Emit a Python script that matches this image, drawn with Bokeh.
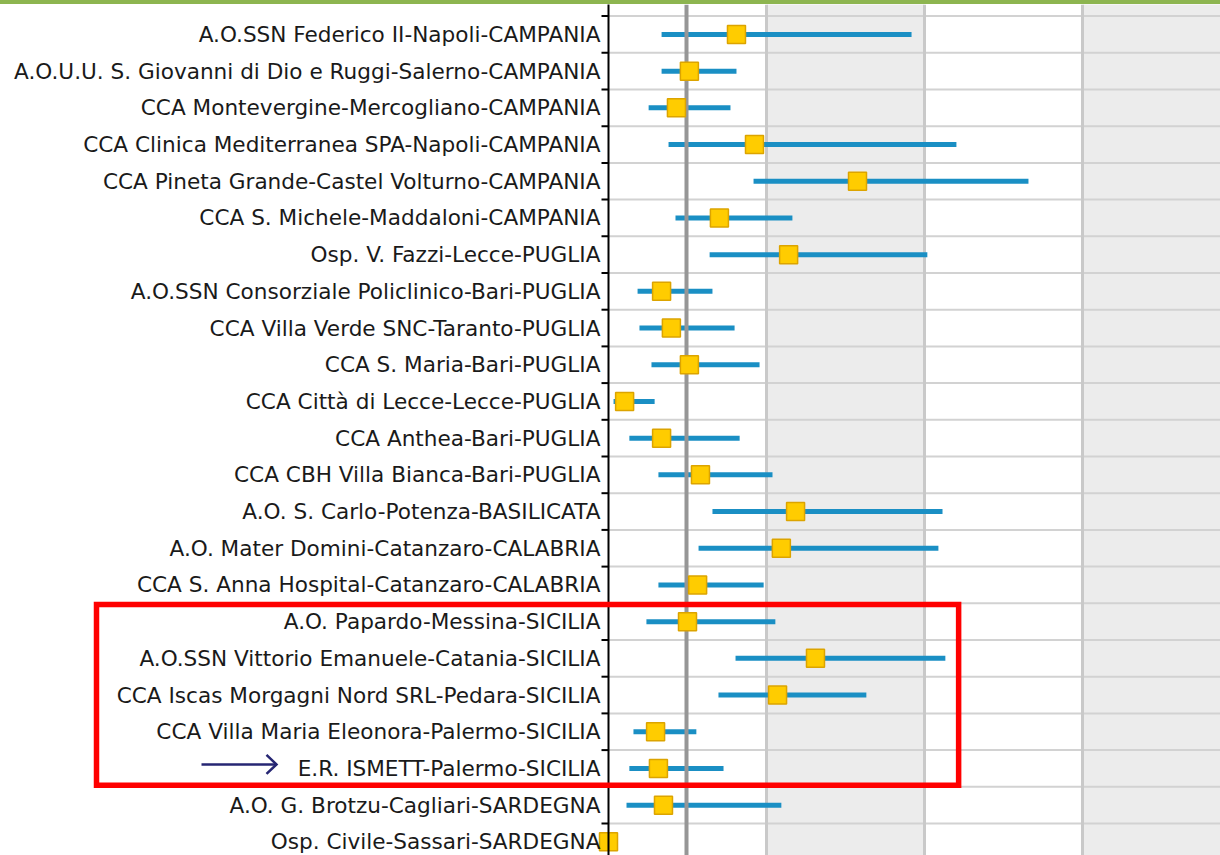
from bokeh.plotting import figure
from bokeh.models import Range1d, BoxAnnotation, Div, ColumnDataSource
from bokeh.core.properties import value
from bokeh.layouts import column
from bokeh.embed import file_html
from bokeh.resources import INLINE

# ---------------- data ----------------
hospitals = [
    "A.O.SSN Federico II-Napoli-CAMPANIA",
    "A.O.U.U. S. Giovanni di Dio e Ruggi-Salerno-CAMPANIA",
    "CCA Montevergine-Mercogliano-CAMPANIA",
    "CCA Clinica Mediterranea SPA-Napoli-CAMPANIA",
    "CCA Pineta Grande-Castel Volturno-CAMPANIA",
    "CCA S. Michele-Maddaloni-CAMPANIA",
    "Osp. V. Fazzi-Lecce-PUGLIA",
    "A.O.SSN Consorziale Policlinico-Bari-PUGLIA",
    "CCA Villa Verde SNC-Taranto-PUGLIA",
    "CCA S. Maria-Bari-PUGLIA",
    "CCA Città di Lecce-Lecce-PUGLIA",
    "CCA Anthea-Bari-PUGLIA",
    "CCA CBH Villa Bianca-Bari-PUGLIA",
    "A.O. S. Carlo-Potenza-BASILICATA",
    "A.O. Mater Domini-Catanzaro-CALABRIA",
    "CCA S. Anna Hospital-Catanzaro-CALABRIA",
    "A.O. Papardo-Messina-SICILIA",
    "A.O.SSN Vittorio Emanuele-Catania-SICILIA",
    "CCA Iscas Morgagni Nord SRL-Pedara-SICILIA",
    "CCA Villa Maria Eleonora-Palermo-SICILIA",
    "E.R. ISMETT-Palermo-SICILIA",
    "A.O. G. Brotzu-Cagliari-SARDEGNA",
    "Osp. Civile-Sassari-SARDEGNA",
]
estimate = [4.05, 2.56, 2.15, 4.62, 7.88, 3.51, 5.70, 1.68, 1.99, 2.56, 0.51, 1.68,
            2.91, 5.92, 5.47, 2.82, 2.50, 6.55, 5.35, 1.49, 1.58, 1.74, 0.00]
ci_low = [1.68, 1.68, 1.27, 1.90, 4.59, 2.12, 3.20, 0.92, 0.98, 1.36, 0.16, 0.66,
          1.58, 3.29, 2.85, 1.58, 1.20, 4.02, 3.48, 0.79, 0.66, 0.57, 0.00]
ci_high = [9.59, 4.05, 3.86, 11.01, 13.29, 5.82, 10.09, 3.29, 3.99, 4.78, 1.46, 4.15,
           5.19, 10.57, 10.44, 4.91, 5.28, 10.66, 8.16, 2.78, 3.64, 5.47, 0.00]
reference_value = 2.47
grid_values = [5, 10, 15]
band_edges = [(5, 10), (15, 25)]
highlight_rows = (16, 20)      # SICILIA rows framed in red
highlight_right = 11.08        # right edge of the red frame (x units)
arrow_row = 20                 # E.R. ISMETT

# ---------------- geometry ----------------
n = len(hospitals)
ycenter = [n - 0.5 - i for i in range(n)]
boundaries = [float(k) for k in range(1, n + 1)]

PPU = 31.6            # pixels per x unit
ROW = 36.7            # pixels per row
LEFT_PX, RIGHT_PX = 608, 612
X_START, X_END = -LEFT_PX / PPU, RIGHT_PX / PPU
Y_BOT, Y_TOP = 0.128, 23.316

def dx(px):
    return px / PPU

def dy(px):
    return px / ROW

src = ColumnDataSource(dict(name=hospitals, y=ycenter, est=estimate, lo=ci_low, hi=ci_high,
                            lx=[-dx(8)] * n))

p = figure(width=1220, height=851, x_range=Range1d(X_START, X_END), y_range=Range1d(Y_BOT, Y_TOP),
           toolbar_location=None, output_backend="svg",
           min_border=0, min_border_left=0, min_border_right=0, min_border_top=0, min_border_bottom=0)
p.outline_line_color = None
p.axis.visible = False
p.grid.visible = False
p.background_fill_color = "white"
p.border_fill_color = "white"

# alternating bands
for (a, b) in band_edges:
    p.quad(left=a, right=b, bottom=-5, top=40, fill_color="#ececec", line_color=None)

# horizontal row separators (plot area only)
p.segment(x0=[0] * n, x1=[X_END + 1] * n, y0=boundaries, y1=boundaries,
          line_color="#d2d2d2", line_width=2)
# vertical gridlines
p.vspan(x=grid_values, line_color="#c9c9c9", line_width=3)

# confidence intervals
p.segment(x0="lo", x1="hi", y0="y", y1="y", source=src, line_color="#1a8fc4", line_width=5)

# reference line
p.vspan(x=[reference_value], line_color="#969696", line_width=4)

# estimates
p.scatter(x="est", y="y", source=src, marker="square", size=18,
          fill_color="#ffcc00", line_color="#dca400", line_width=1.5)

# y axis: line, boundary ticks, labels
p.segment(x0=[0], x1=[0], y0=[Y_BOT - 1], y1=[Y_TOP + 1], line_color="black", line_width=2)
p.segment(x0=[-dx(7)] * n, x1=[0] * n, y0=boundaries, y1=boundaries,
          line_color="black", line_width=2)
p.text(x="lx", y="y", text="name", source=src, text_align="right", text_baseline="middle",
       text_font=value("DejaVu Sans"), text_font_size="21.6px", text_color="#1a1a1a")

# red highlight box
r0, r1 = highlight_rows
box = BoxAnnotation(left=-dx(608 - 96), right=highlight_right,
                    top=n - r0 - 0.03, bottom=n - r1 - 1 + 0.04,
                    fill_alpha=0, line_color="#ff0000", line_alpha=1.0, line_width=5.5,
                    line_join="miter", level="overlay")
p.add_layout(box)

# arrow pointing at E.R. ISMETT
ay = ycenter[arrow_row] + dy(4)
ax0, ax1 = -dx(608 - 201), -dx(608 - 276)
p.line(x=[ax0, ax1], y=[ay, ay], line_color="#262673", line_width=2.5)
p.line(x=[ax1 - dx(10), ax1, ax1 - dx(10)], y=[ay + dy(9.5), ay, ay - dy(9.5)],
       line_color="#262673", line_width=2.5, line_join="miter")

strip = Div(text="", width=1220, height=4, margin=(0, 0, 0, 0),
            styles={"background-color": "#8db550"})

layout = column(strip, p, spacing=0)
open("out.html", "w").write(file_html(layout, INLINE))
